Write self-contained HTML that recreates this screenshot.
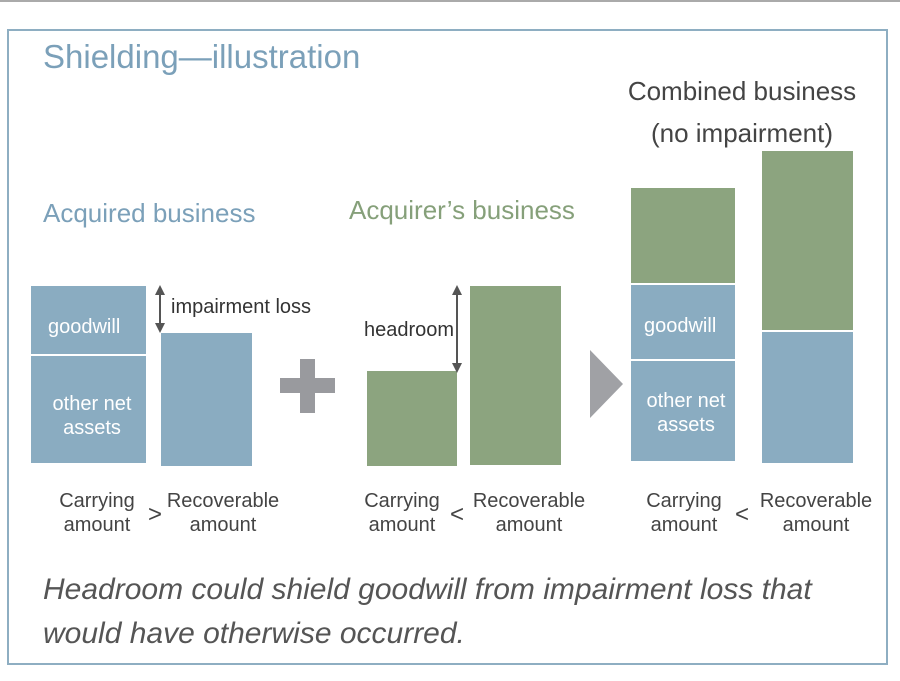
<!DOCTYPE html>
<html><head><meta charset="utf-8"><style>
html,body{margin:0;padding:0;background:#fff;}
svg{display:block;font-family:"Liberation Sans",sans-serif;}
</style></head><body>
<svg width="900" height="681" viewBox="0 0 900 681" xmlns="http://www.w3.org/2000/svg">
<defs>
<marker id="ah" markerWidth="10" markerHeight="10" refX="5" refY="5" orient="auto-start-reverse" markerUnits="userSpaceOnUse">
<path d="M0,0 L10,5 L0,10 z" fill="#555"/></marker>
</defs>
<rect x="0" y="0" width="900" height="2" fill="#aaa"/>
<rect x="8" y="30" width="879" height="634" fill="none" stroke="#8eaec2" stroke-width="2"/>
<text x="43" y="68" font-size="33" fill="#7ba0b9">Shielding—illustration</text>
<text x="43" y="222" font-size="26" fill="#7ba0b9">Acquired business</text>
<text x="349" y="219" font-size="26" fill="#86a07a">Acquirer’s business</text>
<text x="742" y="100" font-size="26" fill="#444" text-anchor="middle">Combined business</text>
<text x="742" y="142" font-size="26" fill="#444" text-anchor="middle">(no impairment)</text>

<rect x="31" y="286" width="115" height="68" fill="#8aacc1"/>
<rect x="31" y="356" width="115" height="107" fill="#8aacc1"/>
<rect x="161" y="333" width="91" height="133" fill="#8aacc1"/>
<text x="48" y="333" font-size="20" fill="#fff">goodwill</text>
<text x="92" y="410" font-size="20" fill="#fff" text-anchor="middle">other net</text>
<text x="92" y="434" font-size="20" fill="#fff" text-anchor="middle">assets</text>
<line x1="160" y1="290" x2="160" y2="328" stroke="#555" stroke-width="2" marker-start="url(#ah)" marker-end="url(#ah)"/>
<text x="171" y="313" font-size="20" fill="#333">impairment loss</text>

<rect x="280" y="378" width="55" height="15" fill="#999a9e"/>
<rect x="300" y="359" width="15" height="54" fill="#999a9e"/>

<rect x="367" y="371" width="90" height="95" fill="#8ca47f"/>
<rect x="470" y="286" width="91" height="179" fill="#8ca47f"/>
<line x1="457" y1="290" x2="457" y2="368" stroke="#555" stroke-width="2" marker-start="url(#ah)" marker-end="url(#ah)"/>
<text x="364" y="336" font-size="20" fill="#333">headroom</text>

<polygon points="590,350 623,384 590,418" fill="#a0a1a5"/>

<rect x="631" y="188" width="104" height="95" fill="#8ca47f"/>
<rect x="631" y="285" width="104" height="74" fill="#8aacc1"/>
<rect x="631" y="361" width="104" height="100" fill="#8aacc1"/>
<rect x="762" y="151" width="91" height="179" fill="#8ca47f"/>
<rect x="762" y="332" width="91" height="131" fill="#8aacc1"/>
<text x="644" y="332" font-size="20" fill="#fff">goodwill</text>
<text x="686" y="407" font-size="20" fill="#fff" text-anchor="middle">other net</text>
<text x="686" y="431" font-size="20" fill="#fff" text-anchor="middle">assets</text>

<g font-size="20" fill="#444" text-anchor="middle">
<text x="97" y="507">Carrying</text><text x="97" y="531">amount</text>
<text x="155" y="522" font-size="24">&gt;</text>
<text x="223" y="507">Recoverable</text><text x="223" y="531">amount</text>
<text x="402" y="507">Carrying</text><text x="402" y="531">amount</text>
<text x="457" y="522" font-size="24">&lt;</text>
<text x="529" y="507">Recoverable</text><text x="529" y="531">amount</text>
<text x="684" y="507">Carrying</text><text x="684" y="531">amount</text>
<text x="742" y="522" font-size="24">&lt;</text>
<text x="816" y="507">Recoverable</text><text x="816" y="531">amount</text>
</g>
<g font-size="30" fill="#555" font-style="italic">
<text x="43" y="599">Headroom could shield goodwill from impairment loss that</text>
<text x="43" y="643">would have otherwise occurred.</text>
</g>
</svg>
</body></html>
